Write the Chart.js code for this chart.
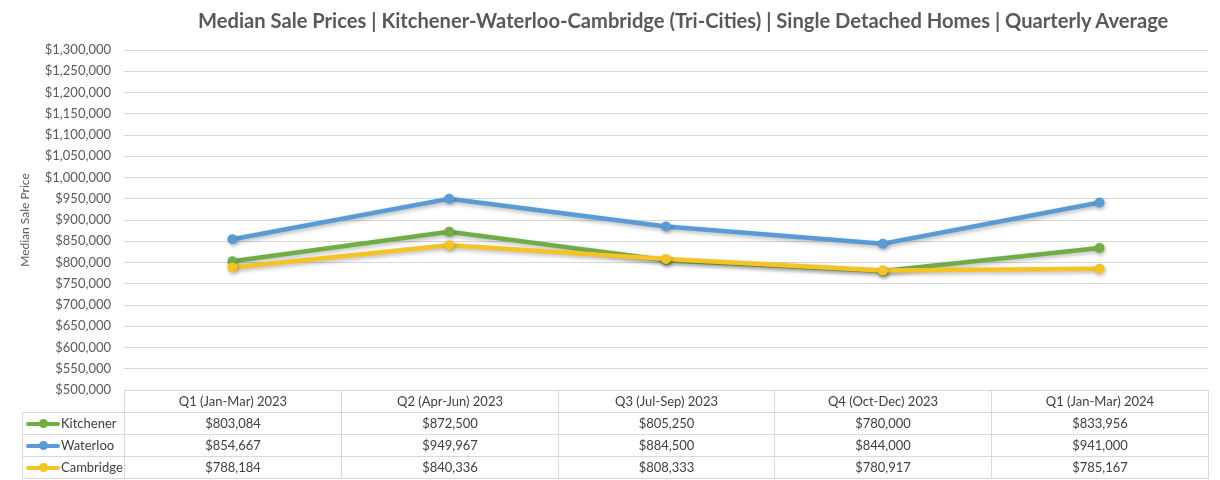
<!DOCTYPE html>
<html>
<head>
<meta charset="utf-8">
<script src="https://cdn.jsdelivr.net/npm/chart.js@4"></script>
<style>
  html, body { margin: 0; padding: 0; background: #ffffff; }
  #wrap { position: relative; width: 1220px; height: 480px; overflow: hidden; font-family: Lato, "Open Sans", sans-serif; }
  #chart { position: absolute; left: 0; top: 0; }
  #title { position: absolute; top: 8px; white-space: nowrap; font-weight: bold; color: #595959; }
  .cell { position: absolute; box-sizing: border-box; border: 1px solid #d9d9d9; color: #404040; font-size: 13px; text-align: center; white-space: nowrap; }
  .leg { text-align: left; }
  .sample { position: absolute; left: 3px; top: 9px; width: 34px; height: 4px; border-radius: 2px; }
  .dot { position: absolute; left: 13px; top: -3px; width: 9px; height: 9px; border-radius: 50%; }
  .legtxt { position: absolute; left: 38px; top: 0; }
</style>
</head>
<body>
<div id="wrap">
  <canvas id="chart" width="1220" height="480"></canvas>
  <div id="title">Median Sale Prices | Kitchener-Waterloo-Cambridge (Tri-Cities) | Single Detached Homes | Quarterly Average</div>
</div>
<script>
const categories = ['Q1 (Jan-Mar) 2023', 'Q2 (Apr-Jun) 2023', 'Q3 (Jul-Sep) 2023', 'Q4 (Oct-Dec) 2023', 'Q1 (Jan-Mar) 2024'];
const kitchener = [803084, 872500, 805250, 780000, 833956];
const waterloo  = [854667, 949967, 884500, 844000, 941000];
const cambridge = [788184, 840336, 808333, 780917, 785167];
const seriesNames = ['Kitchener', 'Waterloo', 'Cambridge'];
const seriesColors = ['#70AD47', '#5B9BD5', '#F6C324'];
const yMin = 500000, yMax = 1300000, yStep = 50000;
const yAxisTitle = 'Median Sale Price';

const FONT = 'Lato, "Open Sans", sans-serif';
const fmt = v => '$' + Number(v).toLocaleString('en-US');

const shadowPlugin = {
  id: 'lineShadow',
  beforeDatasetDraw(chart) {
    const ctx = chart.ctx;
    ctx.save();
    ctx.shadowColor = 'rgba(0,0,0,0.28)';
    ctx.shadowBlur = 4;
    ctx.shadowOffsetX = 1;
    ctx.shadowOffsetY = 2;
  },
  afterDatasetDraw(chart) { chart.ctx.restore(); }
};

const allSeries = [kitchener, waterloo, cambridge];
const datasets = allSeries.map((data, i) => ({
  label: seriesNames[i],
  data: data,
  borderColor: seriesColors[i],
  backgroundColor: seriesColors[i],
  borderWidth: 4.5,
  pointRadius: 5,
  pointHoverRadius: 5,
  pointBorderWidth: 0,
  tension: 0,
  order: 3 - i
}));

const chart = new Chart(document.getElementById('chart'), {
  type: 'line',
  data: { labels: categories, datasets: datasets },
  plugins: [shadowPlugin],
  options: {
    responsive: false,
    animation: false,
    layout: { padding: { left: 0, top: 50, right: 12, bottom: 90 } },
    plugins: { legend: { display: false }, tooltip: { enabled: false }, title: { display: false } },
    scales: {
      x: { type: 'category', display: false, offset: true },
      y: {
        min: yMin, max: yMax,
        ticks: { stepSize: yStep, padding: 13, color: '#595959', font: { family: FONT, size: 13 }, callback: v => fmt(v) },
        grid: { color: '#d9d9d9', drawTicks: false, lineWidth: 1 },
        border: { display: false },
        title: { display: true, text: yAxisTitle, color: '#595959', font: { family: FONT, size: 12 }, padding: { top: 18, bottom: 0 } },
        afterFit: s => { s.width = 124; }
      }
    }
  }
});

// Title: fit to reference width
(function () {
  const t = document.getElementById('title');
  const c = document.createElement('canvas').getContext('2d');
  c.font = 'bold 19px ' + FONT;
  const w = c.measureText(t.textContent).width;
  const size = 19 * 972 / w;
  t.style.fontFamily = FONT;
  t.style.fontSize = size.toFixed(2) + 'px';
  t.style.left = '198px';
})();

// Data table below the plot, aligned to the x scale categories
(function () {
  const wrap = document.getElementById('wrap');
  const area = chart.chartArea;
  const colW = (area.right - area.left) / categories.length;
  const top = area.bottom;
  const headH = 22, rowH = 22;
  const legLeft = 22, legW = area.left - legLeft;
  function cell(x, y, w, h, html, cls) {
    const d = document.createElement('div');
    d.className = 'cell' + (cls ? ' ' + cls : '');
    d.style.left = Math.round(x) + 'px';
    d.style.top = Math.round(y) + 'px';
    d.style.width = (Math.round(x + w) - Math.round(x) + 1) + 'px';
    d.style.height = (h + 1) + 'px';
    d.style.lineHeight = (h - 1) + 'px';
    d.innerHTML = html;
    wrap.appendChild(d);
    return d;
  }
  categories.forEach((c, j) => cell(area.left + j * colW, top, colW, headH, c));
  allSeries.forEach((data, i) => {
    const y = top + headH + i * rowH;
    const lc = cell(legLeft, y, legW, rowH, '', 'leg');
    const s = document.createElement('div');
    s.className = 'sample';
    s.style.background = seriesColors[i];
    const dot = document.createElement('div');
    dot.className = 'dot';
    dot.style.background = seriesColors[i];
    s.appendChild(dot);
    lc.appendChild(s);
    const tx = document.createElement('span');
    tx.className = 'legtxt';
    tx.textContent = seriesNames[i];
    lc.appendChild(tx);
    data.forEach((v, j) => cell(area.left + j * colW, y, colW, rowH, fmt(v)));
  });
})();
</script>
</body>
</html>
